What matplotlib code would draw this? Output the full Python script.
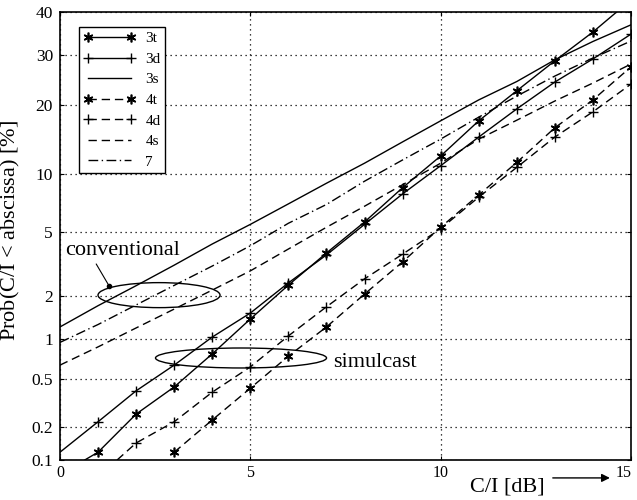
import numpy as np
import matplotlib
matplotlib.use("Agg")
import matplotlib.pyplot as plt
import matplotlib.transforms as mtransforms
from matplotlib.patches import Ellipse
from matplotlib.ticker import NullLocator
from statistics import NormalDist

# values: Prob(C/I < abscissa) in percent
x_all = np.arange(0, 16)

x_3t = [0.65, 1, 2, 3, 4, 5, 6, 7, 8, 9, 10, 11, 12, 13, 14, 15]
p_3t = [0.1, 0.118, 0.256, 0.43, 0.78, 1.4, 2.37, 3.76, 5.67, 8.6, 12.2, 17.3, 22.6, 28.7, 35.2, 43.0]

p_3d = [0.118, 0.22, 0.40, 0.64, 1.04, 1.54, 2.45, 3.66, 5.5, 8.0, 11.0, 14.8, 19.3, 24.3, 29.1, 34.7]
p_3s = [1.23, 1.73, 2.35, 3.17, 4.25, 5.5, 7.1, 9.05, 11.3, 14.1, 17.3, 20.9, 24.4, 28.9, 33.0, 36.9]

x_4t = [3, 4, 5, 6, 7, 8, 9, 10, 11, 12, 13, 14, 15]
p_4t = [0.118, 0.228, 0.42, 0.75, 1.23, 2.07, 3.32, 5.3, 7.9, 11.4, 16.2, 20.9, 27.4]

x_4d = [1.5, 2, 3, 4, 5, 6, 7, 8, 9, 10, 11, 12, 13, 14, 15]
p_4d = [0.1, 0.143, 0.22, 0.39, 0.62, 1.06, 1.70, 2.6, 3.7, 5.2, 7.7, 10.8, 14.8, 18.8, 23.9]

p_4s = [0.64, 0.88, 1.21, 1.64, 2.2, 2.92, 3.97, 5.3, 6.9, 8.9, 11.3, 14.5, 17.4, 20.7, 24.1, 28.0]
p_7 = [0.95, 1.28, 1.75, 2.36, 3.13, 4.15, 5.58, 7.05, 9.26, 11.7, 14.5, 17.9, 21.6, 25.5, 29.3, 33.1]

yticks = [0.1, 0.2, 0.5, 1, 2, 5, 10, 20, 30, 40]
ylabels = ["0.1", "0.2", "0.5", "1", "2", "5", "10", "20", "30", "40"]
xticks = [0, 5, 10, 15]

plt.rcParams["font.family"] = "Liberation Serif"
plt.rcParams["mathtext.fontset"] = "custom"
plt.rcParams["mathtext.rm"] = "Liberation Serif"
plt.rcParams["mathtext.it"] = "Liberation Serif:italic"

# normal probability paper
nd = NormalDist()
_ppf = np.vectorize(nd.inv_cdf, otypes=[float])
_cdf = np.vectorize(nd.cdf, otypes=[float])


def forward(p):
    p = np.clip(np.asarray(p, dtype=float) / 100.0, 1e-9, 1 - 1e-9)
    return _ppf(p)


def inverse(z):
    return 100.0 * _cdf(np.asarray(z, dtype=float))


fig, ax = plt.subplots(figsize=(6.37, 5.0), dpi=100)
fig.subplots_adjust(left=0.0942, right=0.9906, bottom=0.08, top=0.976)
ax.set_yscale("function", functions=(forward, inverse))

dash = (0, (6, 3.5))
dashdot = (0, (7, 2.5, 1, 2.5))
star = (6, 2, 0)
lw = 1.0

ax.plot(x_3t, p_3t, color="k", lw=lw, marker=star, ms=7, mew=1.2,
        markevery=slice(1, None), label="3t")
ax.plot(x_all, p_3d, color="k", lw=lw, marker="+", ms=7, mew=1.0,
        markevery=slice(1, None), label="3d")
ax.plot(x_all, p_3s, color="k", lw=lw, label="3s")
ax.plot(x_4t, p_4t, color="k", lw=lw, ls=dash, marker=star, ms=7, mew=1.2, label="4t")
ax.plot(x_4d, p_4d, color="k", lw=lw, ls=dash, marker="+", ms=7, mew=1.0,
        markevery=slice(1, None), label="4d")
ax.plot(x_all, p_4s, color="k", lw=lw, ls=dash, label="4s")
ax.plot(x_all, p_7, color="k", lw=lw, ls=dashdot, label="7")

ax.set_xlim(0, 15)
ax.set_ylim(0.1, 40)
ax.set_xticks(xticks)
ax.set_xticklabels([str(v) for v in xticks], fontsize=11.5)
ax.set_yticks(yticks)
ax.set_yticklabels(ylabels, fontsize=12.5)
ax.yaxis.set_minor_locator(NullLocator())
ax.xaxis.set_minor_locator(NullLocator())
ax.tick_params(direction="in", length=3, top=True, right=True, color="k")
ax.tick_params(axis="y", pad=5)
ax.grid(True, ls=(0, (1, 3)), color="k", lw=0.9)
for s in ax.spines.values():
    s.set_linewidth(1.2)

# last x tick label sits at the right edge; pull it in a little
last = ax.get_xticklabels()[-1]
last.set_transform(last.get_transform() +
                   mtransforms.ScaledTranslation(-5 / 72, 0, fig.dpi_scale_trans))

ax.set_ylabel(r"Prob(C/I < abscissa) [$\mathit{\%}$]", fontsize=16)
ax.yaxis.set_label_coords(-0.066, 0.513)

# x label with arrow in the lower right corner
ax.text(0.718, -0.071, "C/I [dB]", transform=ax.transAxes, fontsize=16,
        ha="left", va="baseline")
ax.annotate("", xy=(0.963, -0.04), xytext=(0.863, -0.04),
            xycoords="axes fraction", textcoords="axes fraction",
            arrowprops=dict(arrowstyle="-|>", lw=1.0, color="k",
                            mutation_scale=12, shrinkA=0, shrinkB=0),
            annotation_clip=False)

# group markings
ax.add_patch(Ellipse((0.1734, 0.368), 0.2137, 0.0558, transform=ax.transAxes,
                     fill=False, ec="k", lw=1.0))
ax.add_patch(Ellipse((0.317, 0.2277), 0.2995, 0.0446, transform=ax.transAxes,
                     fill=False, ec="k", lw=1.0))
ax.plot([1.29], [2.34], "o", color="k", ms=3)
ax.annotate("conventional", xy=(1.29, 2.34), xytext=(0.009, 0.4576),
            textcoords="axes fraction", fontsize=16, ha="left", va="baseline",
            arrowprops=dict(arrowstyle="-", lw=0.8, color="k", shrinkA=1,
                            shrinkB=0, relpos=(0.25, 0.0)))
ax.text(0.478, 0.2076, "simulcast", transform=ax.transAxes, fontsize=16,
        ha="left", va="baseline")

leg = ax.legend(loc="upper left", bbox_to_anchor=(0.033, 0.9665), borderaxespad=0,
                fontsize=11, numpoints=2, handlelength=3.4, handletextpad=0.65,
                labelspacing=0.45, borderpad=0.3, fancybox=False, framealpha=1)
leg.get_frame().set_edgecolor("k")
leg.get_frame().set_linewidth(1.0)

fig.savefig("out.png", dpi=100)
